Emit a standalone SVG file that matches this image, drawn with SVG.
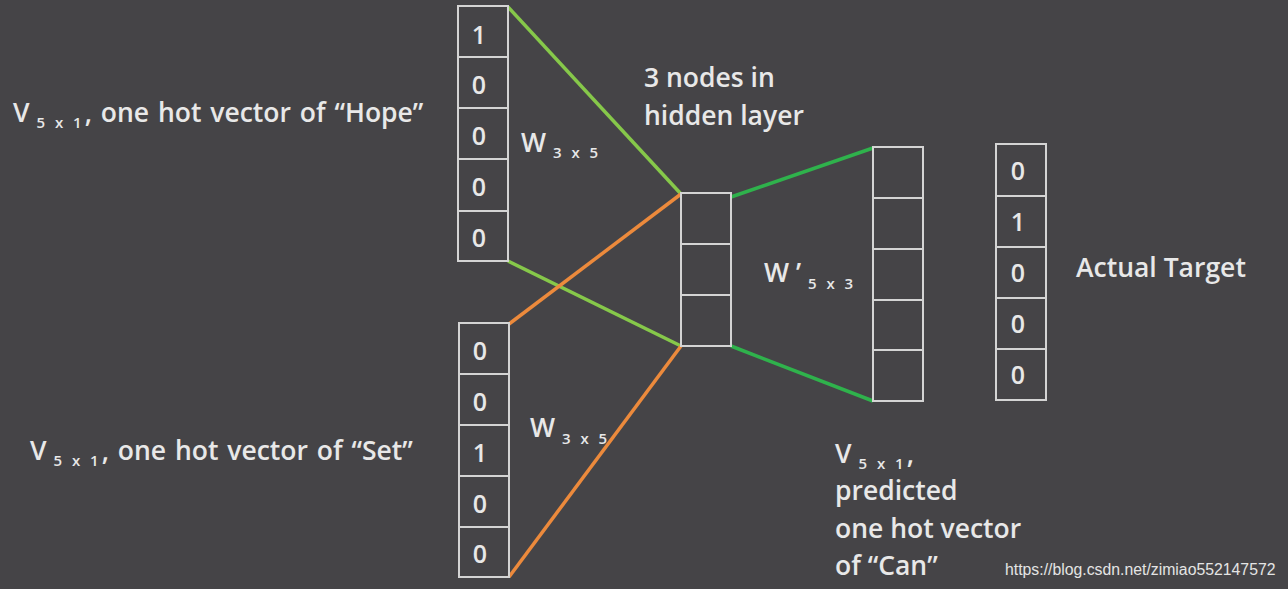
<svg xmlns="http://www.w3.org/2000/svg" width="1288" height="589" viewBox="0 0 1288 589">
<style>
.bg{fill:#454447}
.cell{fill:none;stroke:#d4d4d4;stroke-width:2}
.t{font-family:"Open Sans","Noto Sans","Liberation Sans",sans-serif;fill:#e8e8e8;font-size:26.5px;font-weight:600}
.w{word-spacing:2px}
.n{font-family:"Open Sans","Noto Sans","Liberation Sans",sans-serif;fill:#e8e8e8;font-size:25px;font-weight:600;text-anchor:middle}
.s{font-size:15px;letter-spacing:3px;font-weight:600;word-spacing:0}
.lg{stroke:#86c84a;stroke-width:3.5;fill:none}
.or{stroke:#ec8a3c;stroke-width:3.5;fill:none}
.dg{stroke:#2fb24c;stroke-width:3.5;fill:none}
.wm{font-family:"Liberation Sans",Arial,sans-serif;fill:#e4e4e4;font-size:15.8px}
</style>
<rect class="bg" x="0" y="0" width="1288" height="589"/>
<g id="connectors">
<line class="lg" x1="508" y1="7" x2="681" y2="194"/>
<line class="lg" x1="508" y1="261" x2="681" y2="346"/>
<line class="or" x1="509" y1="324" x2="681" y2="194"/>
<line class="or" x1="509" y1="577" x2="681" y2="346"/>
<line class="dg" x1="731" y1="197" x2="873" y2="148"/>
<line class="dg" x1="731" y1="346" x2="873" y2="401"/>
</g>
<g id="input-hope">
<rect class="cell" x="458" y="6" width="50" height="51"/>
<rect class="cell" x="458" y="57" width="50" height="51"/>
<rect class="cell" x="458" y="108" width="50" height="51"/>
<rect class="cell" x="458" y="159" width="50" height="52"/>
<rect class="cell" x="458" y="211" width="50" height="50"/>
<text class="n" x="479" y="44">1</text>
<text class="n" x="479" y="94">0</text>
<text class="n" x="479" y="145">0</text>
<text class="n" x="479" y="196">0</text>
<text class="n" x="479" y="247">0</text>
</g>
<g id="input-set">
<rect class="cell" x="459" y="323" width="50" height="51"/>
<rect class="cell" x="459" y="374" width="50" height="51"/>
<rect class="cell" x="459" y="425" width="50" height="51"/>
<rect class="cell" x="459" y="476" width="50" height="51"/>
<rect class="cell" x="459" y="527" width="50" height="50"/>
<text class="n" x="480" y="360">0</text>
<text class="n" x="480" y="411">0</text>
<text class="n" x="480" y="462">1</text>
<text class="n" x="480" y="513">0</text>
<text class="n" x="480" y="563">0</text>
</g>
<g id="hidden">
<rect class="cell" x="681" y="193" width="50" height="51"/>
<rect class="cell" x="681" y="244" width="50" height="51"/>
<rect class="cell" x="681" y="295" width="50" height="51"/>
</g>
<g id="output">
<rect class="cell" x="873" y="147" width="50" height="51"/>
<rect class="cell" x="873" y="198" width="50" height="51"/>
<rect class="cell" x="873" y="249" width="50" height="51"/>
<rect class="cell" x="873" y="300" width="50" height="50"/>
<rect class="cell" x="873" y="350" width="50" height="51"/>
</g>
<g id="target">
<rect class="cell" x="996" y="144" width="50" height="52"/>
<rect class="cell" x="996" y="196" width="50" height="51"/>
<rect class="cell" x="996" y="247" width="50" height="51"/>
<rect class="cell" x="996" y="298" width="50" height="51"/>
<rect class="cell" x="996" y="349" width="50" height="51"/>
<text class="n" x="1018" y="180">0</text>
<text class="n" x="1018" y="231">1</text>
<text class="n" x="1018" y="282">0</text>
<text class="n" x="1018" y="333">0</text>
<text class="n" x="1018" y="384">0</text>
</g>
<g id="labels">
<text class="t" x="13" y="122">V <tspan class="s" dy="6">5 x 1</tspan><tspan class="w" dy="-6">, one hot vector of “Hope”</tspan></text>
<text class="t" x="30" y="460">V <tspan class="s" dy="6">5 x 1</tspan><tspan class="w" dy="-6">, one hot vector of “Set”</tspan></text>
<text class="t" x="644" y="87">3 nodes in</text>
<text class="t" x="644" y="125">hidden layer</text>
<text class="t" x="521" y="152">W <tspan class="s" dy="6">3 x 5</tspan></text>
<text class="t" x="530" y="437">W <tspan class="s" dy="7">3 x 5</tspan></text>
<text class="t" x="764" y="282">W ’ <tspan class="s" dy="7">5 x 3</tspan></text>
<text class="t" x="1076" y="277">Actual Target</text>
<text class="t" x="835" y="463">V <tspan class="s" dy="6">5 x 1</tspan><tspan dy="-6">,</tspan></text>
<text class="t" x="835" y="500">predicted</text>
<text class="t" x="835" y="538">one hot vector</text>
<text class="t" x="835" y="575">of “Can”</text>
<text class="wm" x="1005" y="575">https://blog.csdn.net/zimiao552147572</text>
</g>
</svg>
